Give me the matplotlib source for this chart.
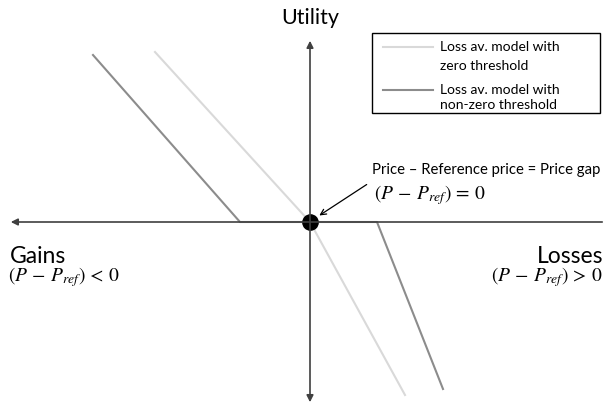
import matplotlib.pyplot as plt

# price gap (P - Pref) and utility, origin at the reference price
zero_x = [-15.5, 0, 9.5]
zero_y = [17.0, 0, -17.3]
thr_x = [-21.7, -7.0, 6.7, 13.3]
thr_y = [16.7, 0, 0, -16.7]
labels = [["Loss av. model with", "zero threshold"],
          ["Loss av. model with", "non-zero threshold"]]
colors = ["#d9d9d9", "#8c8c8c"]

plt.rcParams['font.family'] = ['Lato', 'DejaVu Sans']
plt.rcParams['mathtext.fontset'] = 'stix'

fig = plt.figure(figsize=(6.05, 4.07), dpi=100)
ax = fig.add_axes([0, 0, 1, 1])
ax.set_xlim(-31, 29.5)
ax.set_ylim(-18.5, 22.2)
ax.axis('off')

# axes with arrows
ax.annotate("", xy=(-30.2, 0), xytext=(29.5, 0),
            arrowprops=dict(arrowstyle='-|>', color='#404040', lw=1.2, mutation_scale=10))
ax.annotate("", xy=(0, 18.4), xytext=(0, 0),
            arrowprops=dict(arrowstyle='-|>', color='#404040', lw=1.2, mutation_scale=10, shrinkA=0))
ax.annotate("", xy=(0, -18.3), xytext=(0, 0),
            arrowprops=dict(arrowstyle='-|>', color='#404040', lw=1.2, mutation_scale=10, shrinkA=0))

ax.plot(zero_x, zero_y, color=colors[0], lw=1.5)
ax.plot(thr_x, thr_y, color=colors[1], lw=1.5)
ax.plot([0], [0], 'o', color='black', markersize=11)

gap_lt = r"$\left(P\,-\,P_{ref}\right)\,<\,0$"
gap_gt = r"$\left(P\,-\,P_{ref}\right)\,>\,0$"
gap_eq = r"$\left(P\,-\,P_{ref}\right)\,=\,0$"

ax.text(0, 19.4, "Utility", ha='center', va='bottom', fontsize=15.5)
ax.text(-30.0, -4.1, "Gains", ha='left', va='baseline', fontsize=16.5)
ax.text(-30.2, -4.3, gap_lt, ha='left', va='top', fontsize=14)
ax.text(29.3, -4.1, "Losses", ha='right', va='baseline', fontsize=16.5)
ax.text(29.3, -4.3, gap_gt, ha='right', va='top', fontsize=14)

ax.text(6.2, 5.2, "Price \u2013 Reference price = Price gap", ha='left', va='center', fontsize=10.7)
ax.text(6.4, 2.7, gap_eq, ha='left', va='center', fontsize=14)
ax.annotate("", xy=(0.7, 0.5), xytext=(5.9, 3.9),
            arrowprops=dict(arrowstyle='->', color='black', lw=0.9))

# legend box
ax.add_patch(plt.Rectangle((0.615, 0.722), 0.377, 0.197, transform=ax.transAxes,
                           fill=False, edgecolor='black', lw=1.0))
line_y = [[0.885, 0.837], [0.778, 0.743]]
for i in range(2):
    ax.plot([0.633, 0.716], [line_y[i][0], line_y[i][0]], transform=ax.transAxes,
            color=colors[i], lw=1.5)
    for j in range(2):
        ax.text(0.727, line_y[i][j], labels[i][j], transform=ax.transAxes,
                ha='left', va='center', fontsize=10)

fig.savefig("out.png", dpi=100)
